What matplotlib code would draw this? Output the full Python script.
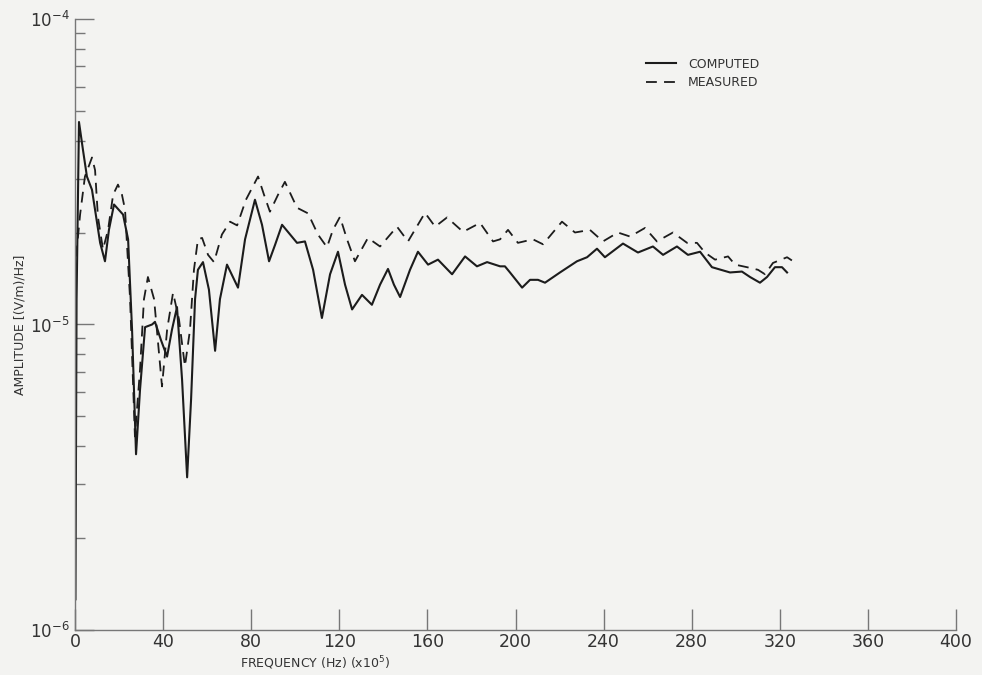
import matplotlib.pyplot as plt
from matplotlib.ticker import FixedLocator, LogLocator, NullFormatter

# frequency in units of 1e5 Hz, amplitude in (V/m)/Hz
computed_freq = [
    0.2, 0.7, 1.8, 3.6, 5.4, 7.7, 11.4, 13.6, 15.4, 17.7, 21.8, 24.1, 25.9,
    27.7, 29.5, 31.8, 35.0, 36.3, 39.0, 41.8, 44.0, 46.3, 48.6, 50.9, 52.7,
    54.5, 55.8, 58.1, 60.8, 63.6, 65.8, 69.0, 74.0, 77.2, 81.7, 84.9, 88.1,
    90.8, 94.0, 100.8, 104.4, 108.1, 112.1, 115.8, 119.4, 122.6, 125.8, 130.3,
    134.8, 138.5, 142.1, 144.8, 147.6, 152.1, 155.7, 160.3, 164.8, 171.2,
    177.1, 182.5, 187.1, 193.0, 195.2, 197.5, 203.0, 206.6, 210.2, 213.4,
    220.2, 227.9, 232.5, 237.0, 240.6, 248.8, 255.6, 262.4, 267.0, 273.3,
    278.3, 283.8, 289.2, 297.4, 302.8, 306.5, 311.0, 314.2, 317.8, 321.0, 323.3,
]
computed_amp = [
    1.26e-6, 1.21e-5, 4.60e-5, 3.73e-5, 3.05e-5, 2.76e-5, 1.85e-5, 1.61e-5,
    2.04e-5, 2.47e-5, 2.29e-5, 1.90e-5, 9.6e-6, 3.76e-6, 6.1e-6, 9.8e-6,
    1.0e-5, 1.02e-5, 8.9e-6, 7.85e-6, 9.6e-6, 1.14e-5, 6.6e-6, 3.16e-6,
    5.7e-6, 1.21e-5, 1.51e-5, 1.60e-5, 1.30e-5, 8.2e-6, 1.21e-5, 1.57e-5,
    1.32e-5, 1.90e-5, 2.56e-5, 2.12e-5, 1.61e-5, 1.82e-5, 2.12e-5, 1.85e-5,
    1.87e-5, 1.51e-5, 1.05e-5, 1.46e-5, 1.73e-5, 1.35e-5, 1.12e-5, 1.25e-5,
    1.16e-5, 1.35e-5, 1.52e-5, 1.35e-5, 1.23e-5, 1.51e-5, 1.73e-5, 1.57e-5,
    1.63e-5, 1.46e-5, 1.67e-5, 1.55e-5, 1.60e-5, 1.55e-5, 1.55e-5, 1.48e-5,
    1.32e-5, 1.40e-5, 1.40e-5, 1.37e-5, 1.48e-5, 1.61e-5, 1.66e-5, 1.77e-5,
    1.66e-5, 1.84e-5, 1.72e-5, 1.80e-5, 1.69e-5, 1.80e-5, 1.69e-5, 1.73e-5,
    1.54e-5, 1.48e-5, 1.49e-5, 1.43e-5, 1.37e-5, 1.43e-5, 1.54e-5, 1.54e-5,
    1.48e-5,
]

measured_freq = [
    0.5, 2.3, 4.5, 7.7, 9.1, 10.4, 12.7, 15.0, 17.3, 19.5, 21.3, 22.7, 25.0,
    27.2, 29.5, 31.3, 33.1, 35.9, 39.5, 41.8, 44.5, 47.2, 49.9, 52.2, 54.0,
    55.8, 57.7, 60.4, 63.1, 66.7, 70.4, 73.6, 77.6, 83.1, 85.8, 88.5, 92.2,
    95.3, 100.8, 105.8, 110.3, 114.4, 117.1, 120.3, 123.5, 127.1, 133.0,
    138.5, 146.2, 151.2, 158.9, 163.5, 168.9, 176.2, 183.9, 189.8, 193.0,
    196.6, 201.1, 207.9, 212.5, 221.1, 227.0, 233.8, 239.7, 246.5, 252.0,
    258.8, 264.2, 271.5, 277.9, 282.4, 286.0, 290.6, 296.5, 299.7, 305.1,
    310.1, 313.3, 316.9, 323.3, 325.5,
]
measured_amp = [
    1.67e-5, 2.29e-5, 3.05e-5, 3.52e-5, 3.2e-5, 2.25e-5, 1.76e-5, 2.04e-5,
    2.66e-5, 2.87e-5, 2.66e-5, 2.38e-5, 1.21e-5, 4.3e-6, 7.1e-6, 1.21e-5,
    1.43e-5, 1.21e-5, 6.27e-6, 9.6e-6, 1.27e-5, 1.04e-5, 7.3e-6, 9.6e-6,
    1.51e-5, 1.90e-5, 1.92e-5, 1.69e-5, 1.60e-5, 1.97e-5, 2.17e-5, 2.11e-5,
    2.56e-5, 3.05e-5, 2.66e-5, 2.34e-5, 2.66e-5, 2.93e-5, 2.41e-5, 2.31e-5,
    1.97e-5, 1.79e-5, 2.04e-5, 2.25e-5, 1.9e-5, 1.61e-5, 1.92e-5, 1.80e-5,
    2.09e-5, 1.87e-5, 2.32e-5, 2.09e-5, 2.24e-5, 2.01e-5, 2.15e-5, 1.87e-5,
    1.9e-5, 2.04e-5, 1.85e-5, 1.9e-5, 1.83e-5, 2.17e-5, 2.0e-5, 2.04e-5,
    1.87e-5, 2.0e-5, 1.94e-5, 2.07e-5, 1.87e-5, 2.0e-5, 1.85e-5, 1.85e-5,
    1.72e-5, 1.63e-5, 1.67e-5, 1.57e-5, 1.54e-5, 1.51e-5, 1.46e-5, 1.59e-5,
    1.66e-5, 1.62e-5,
]

x_ticks = [0, 40, 80, 120, 160, 200, 240, 280, 320, 360, 400]

bg = "#f3f3f1"
ink = "#1c1c1c"
axis_col = "#777777"
text_col = "#333333"

plt.rcParams["font.family"] = ["DejaVu Sans"]

fig = plt.figure(figsize=(9.82, 6.75), dpi=100, facecolor=bg)
ax = fig.add_axes([0.0764, 0.0667, 0.8971, 0.9052], facecolor=bg)

ax.plot(computed_freq, computed_amp, color=ink, lw=1.5, label="COMPUTED")
ax.plot(measured_freq, measured_amp, color=ink, lw=1.3,
        dashes=(6, 4), label="MEASURED")

ax.set_yscale("log")
ax.set_xlim(0, 400)
ax.set_ylim(1e-6, 1e-4)

for side in ("top", "right"):
    ax.spines[side].set_visible(False)
for side in ("left", "bottom"):
    ax.spines[side].set_color(axis_col)
    ax.spines[side].set_linewidth(1.0)

ax.xaxis.set_major_locator(FixedLocator(x_ticks))
ax.set_xticklabels([str(t) for t in x_ticks])
ax.tick_params(axis="x", direction="in", length=15, width=1.0,
               color=axis_col, labelsize=12.5, labelcolor=text_col, pad=2)

ax.yaxis.set_major_locator(FixedLocator([1e-6, 1e-5, 1e-4]))
ax.set_yticklabels([r"$10^{-6}$", r"$10^{-5}$", r"$10^{-4}$"])
ax.yaxis.set_minor_locator(LogLocator(base=10, subs=range(2, 10)))
ax.yaxis.set_minor_formatter(NullFormatter())
ax.tick_params(axis="y", which="major", direction="in", length=14, width=1.0,
               color=axis_col, labelsize=12, labelcolor=text_col, pad=4)
ax.tick_params(axis="y", which="minor", direction="in", length=7, width=1.0,
               color=axis_col)

ax.set_xlabel(r"FREQUENCY (Hz) (x10$^5$)", fontsize=9, color=text_col,
              labelpad=1)
ax.xaxis.set_label_coords(0.272, -0.04)
ax.set_ylabel("AMPLITUDE [(V/m)/Hz]", fontsize=9, color=text_col, labelpad=4)
ax.yaxis.set_label_coords(-0.055, 0.5)

leg = ax.legend(loc="upper left", bbox_to_anchor=(0.635, 0.955), frameon=False,
                fontsize=9, handlelength=2.4, handletextpad=1.0,
                labelspacing=0.45)
for t in leg.get_texts():
    t.set_color(text_col)

fig.savefig("out.png", dpi=100, facecolor=bg)
